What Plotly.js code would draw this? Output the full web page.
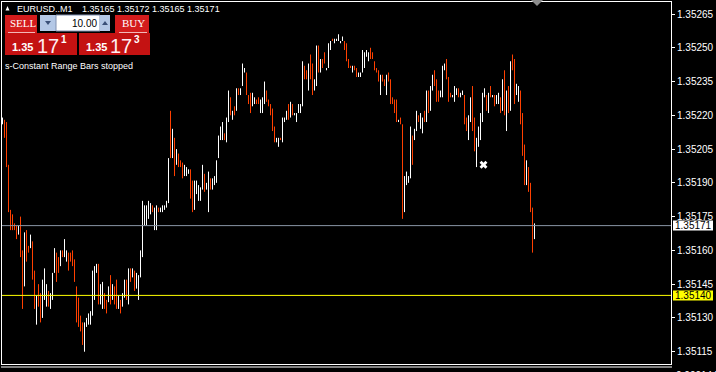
<!DOCTYPE html>
<html><head><meta charset="utf-8">
<script src="https://cdn.plot.ly/plotly-3.0.1.min.js"></script>
<style>html,body{margin:0;padding:0;background:#000;overflow:hidden}#chart{width:716px;height:372px}</style>
</head><body><div id="chart"></div>
<script>
// ---- data (range bars, EURUSD M1) ----
const high = [
1.35219,1.35218,1.35217,1.35198,1.35178,1.35176,1.35172,1.35171,1.35171,1.35175,
1.35160,1.35168,1.35169,1.35162,1.35167,1.35164,1.35151,1.35140,1.35145,1.35141,
1.35147,1.35152,1.35145,1.35142,1.35141,1.35150,1.35161,1.35159,1.35157,1.35160,
1.35160,1.35165,1.35160,1.35159,1.35159,1.35160,1.35156,1.35144,1.35139,1.35131,
1.35128,1.35128,1.35130,1.35132,1.35133,1.35151,1.35153,1.35154,1.35154,1.35145,
1.35146,1.35141,1.35138,1.35144,1.35149,1.35145,1.35144,1.35147,1.35140,1.35138,
1.35141,1.35147,1.35147,1.35152,1.35152,1.35152,1.35151,1.35150,1.35149,1.35160,
1.35182,1.35180,1.35180,1.35182,1.35181,1.35180,1.35179,1.35180,1.35179,1.35179,
1.35180,1.35180,1.35182,1.35201,1.35222,1.35214,1.35210,1.35205,1.35203,1.35200,
1.35199,1.35198,1.35197,1.35196,1.35196,1.35191,1.35191,1.35191,1.35189,1.35188,
1.35198,1.35194,1.35190,1.35195,1.35192,1.35192,1.35193,1.35200,1.35211,1.35215,
1.35217,1.35212,1.35219,1.35231,1.35228,1.35222,1.35224,1.35232,1.35232,1.35232,
1.35243,1.35241,1.35239,1.35229,1.35230,1.35230,1.35228,1.35227,1.35228,1.35227,
1.35228,1.35235,1.35231,1.35227,1.35225,1.35223,1.35215,1.35210,1.35210,1.35210,
1.35219,1.35219,1.35222,1.35225,1.35226,1.35225,1.35221,1.35221,1.35225,1.35225,
1.35244,1.35242,1.35240,1.35243,1.35247,1.35243,1.35236,1.35251,1.35251,1.35245,
1.35245,1.35248,1.35241,1.35252,1.35253,1.35254,1.35254,1.35254,1.35256,1.35253,
1.35255,1.35253,1.35252,1.35245,1.35242,1.35242,1.35242,1.35241,1.35239,1.35239,
1.35249,1.35248,1.35249,1.35248,1.35250,1.35248,1.35244,1.35241,1.35240,1.35238,
1.35238,1.35236,1.35238,1.35239,1.35236,1.35228,1.35227,1.35227,1.35218,1.35219,
1.35216,1.35193,1.35195,1.35193,1.35215,1.35211,1.35214,1.35222,1.35220,1.35221,
1.35219,1.35222,1.35231,1.35231,1.35233,1.35238,1.35240,1.35236,1.35231,1.35231,
1.35242,1.35243,1.35245,1.35237,1.35230,1.35229,1.35233,1.35232,1.35232,1.35230,
1.35231,1.35229,1.35219,1.35220,1.35228,1.35233,1.35219,1.35210,1.35215,1.35221,
1.35230,1.35232,1.35229,1.35230,1.35233,1.35229,1.35229,1.35229,1.35230,1.35228,
1.35236,1.35240,1.35231,1.35233,1.35244,1.35247,1.35245,1.35234,1.35233,1.35231,
1.35221,1.35207,1.35200,1.35197,1.35190,1.35179,1.35172];
const low = [
1.35216,1.35210,1.35197,1.35177,1.35169,1.35169,1.35169,1.35165,1.35167,1.35157,
1.35134,1.35144,1.35155,1.35159,1.35161,1.35147,1.35134,1.35127,1.35135,1.35128,
1.35130,1.35138,1.35135,1.35135,1.35134,1.35138,1.35150,1.35146,1.35150,1.35153,
1.35157,1.35157,1.35155,1.35151,1.35155,1.35153,1.35146,1.35128,1.35126,1.35124,
1.35118,1.35115,1.35126,1.35127,1.35127,1.35131,1.35138,1.35150,1.35136,1.35136,
1.35134,1.35134,1.35132,1.35137,1.35136,1.35138,1.35136,1.35134,1.35134,1.35132,
1.35135,1.35139,1.35138,1.35136,1.35146,1.35148,1.35142,1.35143,1.35138,1.35148,
1.35157,1.35171,1.35171,1.35174,1.35176,1.35177,1.35169,1.35169,1.35177,1.35177,
1.35177,1.35178,1.35179,1.35181,1.35201,1.35201,1.35193,1.35198,1.35197,1.35197,
1.35192,1.35193,1.35193,1.35194,1.35183,1.35177,1.35178,1.35185,1.35182,1.35182,
1.35187,1.35186,1.35187,1.35177,1.35187,1.35187,1.35189,1.35190,1.35201,1.35209,
1.35209,1.35209,1.35208,1.35217,1.35220,1.35218,1.35220,1.35222,1.35229,1.35229,
1.35233,1.35239,1.35229,1.35225,1.35221,1.35224,1.35225,1.35225,1.35225,1.35221,
1.35221,1.35225,1.35226,1.35224,1.35220,1.35213,1.35208,1.35208,1.35206,1.35209,
1.35208,1.35217,1.35218,1.35218,1.35219,1.35220,1.35220,1.35217,1.35221,1.35221,
1.35224,1.35236,1.35236,1.35231,1.35236,1.35229,1.35231,1.35233,1.35239,1.35239,
1.35241,1.35243,1.35240,1.35241,1.35249,1.35253,1.35252,1.35253,1.35253,1.35252,
1.35253,1.35249,1.35244,1.35241,1.35241,1.35239,1.35240,1.35237,1.35237,1.35237,
1.35239,1.35241,1.35246,1.35244,1.35245,1.35245,1.35240,1.35239,1.35235,1.35229,
1.35235,1.35233,1.35229,1.35235,1.35225,1.35225,1.35221,1.35217,1.35217,1.35216,
1.35174,1.35177,1.35189,1.35190,1.35192,1.35198,1.35209,1.35213,1.35217,1.35214,
1.35212,1.35217,1.35217,1.35221,1.35222,1.35231,1.35233,1.35226,1.35226,1.35228,
1.35228,1.35240,1.35236,1.35226,1.35228,1.35228,1.35226,1.35229,1.35228,1.35228,
1.35229,1.35216,1.35213,1.35209,1.35217,1.35213,1.35204,1.35197,1.35206,1.35209,
1.35217,1.35228,1.35222,1.35221,1.35228,1.35228,1.35224,1.35225,1.35225,1.35221,
1.35222,1.35220,1.35213,1.35221,1.35222,1.35240,1.35225,1.35229,1.35226,1.35216,
1.35202,1.35189,1.35189,1.35186,1.35177,1.35159,1.35165];
// W = bullish (white), O = bearish (orange-red)
const barDir =
"WOOOOOOOWO"+"OWOOWOOWOO"+"WWWOWWWOOW"+"OWWOOOOOOO"+"OWWWWWWWOW"+
"WOOWOWOOWO"+"WWOWOWOWWW"+"WWWWWOWWOW"+"WWWWOWOWOO"+"OWWWOOWWWW"+
"WOWWOWWWWW"+"WOWWOWOWOW"+"WWOOOWWOOW"+"WWOOOOOWWO"+"WWWOWOWWWW"+
"WOOWOOWWOW"+"OOWWWOWWWW"+"WOOOOWOOWW"+"WWWWOOOOOW"+"OOWOOOOOWO"+
"OWWWWOWWOW"+"WOWOWWOOOW"+"WWOOOWWWOW"+"WOOWWOOWWW"+"WWOWOWOWWO"+
"WOWOWOOWWO"+"OOWOOOW";
const tickValues = [1.35115,1.35130,1.35145,1.35160,1.35175,1.35190,1.35205,1.35220,1.35235,1.35250,1.35265];
const tickLabels = tickValues.map(v => v.toFixed(5));
const symbolName = "EURUSD..M1";
const lastOHLC = [1.35165, 1.35172, 1.35165, 1.35171];
const bidPrice = 1.35171;
const levelPrice = 1.35140;
const lotSize = "10.00";
const sellQuote = ["1.35", "17", "1"];
const buyQuote = ["1.35", "17", "3"];
const statusText = "s-Constant Range Bars stopped";
const objMarker = {bar: 240.5, price: 1.35198};
const subLabel = "0.000144";

// ---- build ----
const idx = high.map((_, i) => i);
const openArr = high.map((h, i) => barDir[i] === 'W' ? low[i] : h);
const closeArr = high.map((h, i) => barDir[i] === 'W' ? h : low[i]);
openArr[openArr.length - 1] = lastOHLC[0];
closeArr[closeArr.length - 1] = lastOHLC[3];

const ORANGE = '#ff4000';
const traces = [{
  type: 'ohlc', x: idx, open: openArr, high: high, low: low, close: closeArr,
  tickwidth: 0, hoverinfo: 'skip',
  increasing: {line: {color: '#ffffff', width: 1}},
  decreasing: {line: {color: ORANGE, width: 1}}
}, {
  type: 'scatter', mode: 'markers', x: [objMarker.bar], y: [objMarker.price],
  marker: {symbol: 'x', size: 7, color: '#ffffff', line: {width: 0}}, hoverinfo: 'skip'
}];

// page-pixel helpers for decorations (plot area: x 2..671, y 2..364)
const PX = x => (x - 2) / 669;
const PY = y => (364 - y) / 362;
function rect(x0, y0, x1, y1, fill, line) {
  return {type: 'rect', xref: 'paper', yref: 'paper', x0: PX(x0), x1: PX(x1), y0: PY(y1), y1: PY(y0),
    fillcolor: fill, line: line || {width: 0}, layer: 'above'};
}
function poly(pts, fill) {
  return {type: 'path', xref: 'paper', yref: 'paper', layer: 'above', fillcolor: fill, line: {width: 0},
    path: 'M' + pts.map(p => PX(p[0]) + ',' + PY(p[1])).join('L') + 'Z'};
}
function hline(x0, x1, y, color) {
  return {type: 'line', xref: 'paper', yref: 'paper', x0: PX(x0), x1: PX(x1), y0: PY(y), y1: PY(y),
    line: {color: color, width: 1}, layer: 'above'};
}
function txt(text, x, y, size, color, opts) {
  opts = opts || {};
  return {xref: 'paper', yref: 'paper', x: PX(x), y: PY(y), xanchor: opts.anchor || 'left', yanchor: 'middle',
    text: text, showarrow: false, borderpad: 0,
    font: {family: opts.family || 'Liberation Sans, Arial, sans-serif', size: size, color: color, weight: opts.weight || 'normal'}};
}
const SANS = 'Liberation Sans, Arial, sans-serif';
const SERIF = 'Liberation Serif, Times New Roman, serif';

const shapes = [
  {type: 'line', xref: 'paper', yref: 'y', x0: 0, x1: 1, y0: bidPrice, y1: bidPrice, line: {color: '#8a96a6', width: 1}, layer: 'above'},
  {type: 'line', xref: 'paper', yref: 'y', x0: 0, x1: 1, y0: levelPrice, y1: levelPrice, line: {color: '#ffff00', width: 1}, layer: 'above'},
  // price labels on the axis
  {type: 'rect', xref: 'paper', yref: 'y', ysizemode: 'pixel', yanchor: bidPrice, x0: PX(673), x1: PX(713), y0: -5, y1: 5, fillcolor: '#ffffff', line: {width: 0}},
  {type: 'rect', xref: 'paper', yref: 'y', ysizemode: 'pixel', yanchor: levelPrice, x0: PX(673), x1: PX(713), y0: -5, y1: 5, fillcolor: '#ffff00', line: {width: 0}},
  // one-click trading panel
  rect(5, 15, 37, 33, '#d41c1c'),
  rect(115, 15, 149, 33, '#d41c1c'),
  rect(5, 33, 77, 55, '#c41212'),
  rect(79, 33, 150, 55, '#c41212'),
  hline(8, 35, 32.5, '#f2b8b8'),
  hline(119, 147, 32.5, '#f2b8b8'),
  rect(40, 15, 56, 31, '#b4c8e6'),
  rect(56, 15, 100, 31, '#ffffff', {color: '#8090b0', width: 1}),
  rect(100, 15, 110, 31, '#b4c8e6'),
  poly([[45, 21], [51, 21], [48, 25]], '#3a5078'),
  poly([[102, 25], [108, 25], [105, 21]], '#3a5078'),
  // header triangle
  poly([[5.5, 10.5], [9.5, 10.5], [7.5, 6]], '#ffffff'),
  // chart shift marker
  poly([[531, 0], [543, 0], [537, 6]], '#8c8c8c'),
  // sub-window frame
  hline(1, 672, 367, '#ffffff')
];

const annotations = [
  txt(symbolName, 16, 8.5, 9, '#ffffff'),
  txt(lastOHLC.map(v => v.toFixed(5)).join(' '), 81, 8.5, 9, '#ffffff'),
  txt('SELL', 9, 23.5, 11, '#ffffff', {family: SERIF}),
  txt('BUY', 121, 23.5, 11, '#ffffff', {family: SERIF}),
  txt(lotSize, 98, 23, 10, '#000000', {anchor: 'right'}),
  txt(sellQuote[0], 11, 47, 11, '#ffffff', {weight: 'bold'}),
  txt(sellQuote[1], 36, 45.5, 20, '#ffeef4'),
  txt(sellQuote[2], 60, 39, 10, '#ffffff', {weight: 'bold'}),
  txt(buyQuote[0], 85, 47, 11, '#ffffff', {weight: 'bold'}),
  txt(buyQuote[1], 109, 45.5, 20, '#ffeef4'),
  txt(buyQuote[2], 133, 39, 10, '#ffffff', {weight: 'bold'}),
  txt(statusText, 4, 66, 9, '#ffffff'),
  txt(subLabel, 675, 375, 10, '#ffffff'),
  {xref: 'paper', yref: 'y', x: PX(674), y: bidPrice, xanchor: 'left', yanchor: 'middle', text: bidPrice.toFixed(5), showarrow: false, borderpad: 0, font: {family: SANS, size: 10, color: '#000000'}},
  {xref: 'paper', yref: 'y', x: PX(674), y: levelPrice, xanchor: 'left', yanchor: 'middle', text: levelPrice.toFixed(5), showarrow: false, borderpad: 0, font: {family: SANS, size: 10, color: '#000000'}}
];

const layout = {
  width: 716, height: 372,
  margin: {l: 2, r: 45, t: 2, b: 8, pad: 0},
  paper_bgcolor: '#000000', plot_bgcolor: '#000000',
  showlegend: false, dragmode: false,
  xaxis: {range: [-0.25, 334.25], showgrid: false, zeroline: false, showticklabels: false, ticks: '',
    showline: true, mirror: true, linecolor: '#ffffff', linewidth: 1, rangeslider: {visible: false}, fixedrange: true},
  yaxis: {range: [1.3510953, 1.3527033], side: 'right', tickmode: 'array', tickvals: tickValues, ticktext: tickLabels,
    ticks: 'outside', ticklen: 3, tickcolor: '#ffffff', tickwidth: 1,
    tickfont: {family: SANS, size: 10, color: '#ffffff'},
    showgrid: false, zeroline: false, showline: true, mirror: true, linecolor: '#ffffff', linewidth: 1, fixedrange: true},
  shapes: shapes, annotations: annotations
};
Plotly.newPlot('chart', traces, layout, {displayModeBar: false, staticPlot: true});
</script></body></html>
